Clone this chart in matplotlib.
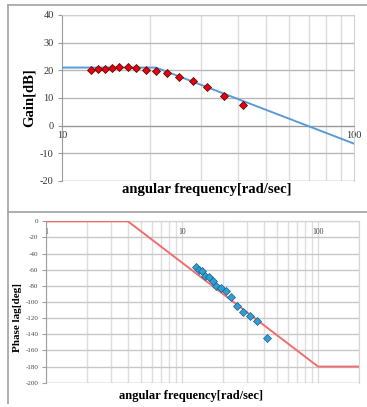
import matplotlib
matplotlib.use("Agg")
import matplotlib.pyplot as plt
from matplotlib.lines import Line2D
from matplotlib.ticker import FixedLocator, NullFormatter

# ---- data -----------------------------------------------------------
freq = [12.6, 13.3, 14.0, 14.8, 15.7, 16.8, 17.9, 19.4, 21.0, 22.9,
        25.2, 28.0, 31.4, 35.8, 41.8]
gain_meas = [20.0, 20.6, 20.6, 21.0, 21.3, 21.1, 20.7, 20.0, 19.9, 19.0,
             17.7, 16.1, 14.0, 10.7, 7.5]
phase_meas = [-56.5, -60.4, -61.2, -67.8, -68.6, -73.6, -79.8, -83.1, -86.0,
              -94.2, -105.0, -112.0, -117.4, -123.5, -144.2]

gain_fit_w = [10, 21, 100]
gain_fit = [21.0, 21.0, -6.5]
phase_fit_w = [1, 4, 100, 200]
phase_fit = [0, 0, -180, -180]

gain_yticks = [-20, -10, 0, 10, 20, 30, 40]
gain_xticks = [10, 100]
gain_xminor = [20, 30, 40, 50, 60, 70, 80, 90]
phase_yticks = list(range(-200, 1, 20))
phase_xticks = [1, 10, 100]
phase_xminor = [2, 3, 4, 5, 6, 7, 8, 9, 20, 30, 40, 50, 60, 70, 80, 90, 200]

W, H = 367, 407
SERIF = ["Liberation Serif", "DejaVu Serif"]
plt.rcParams["font.family"] = SERIF

fig = plt.figure(figsize=(W / 100, H / 100), dpi=100)
fig.patch.set_facecolor("white")


def box(x0, y0, x1, y1):
    # pixel box (from top-left) -> figure fraction rect
    return [x0 / W, 1 - y1 / H, (x1 - x0) / W, (y1 - y0) / H]


def fx(x):
    return x / W


def fy(y):
    return 1 - y / H


# ---- outer frame lines ----------------------------------------------
frame_c = "#a8a8a8"
for xs, ys in [((8, 367), (5, 5)), ((8, 8), (5, 403)), ((8, 367), (212, 212))]:
    fig.add_artist(Line2D([fx(v) for v in xs], [fy(v) for v in ys],
                          color=frame_c, lw=1.3))

# ════════════════════ top: gain ════════════════════
ax1 = fig.add_axes(box(62, 15, 354, 181))
ax1.set_xscale("log")
ax1.set_xlim(10, 100)
ax1.set_ylim(-20, 40)
ax1.set_yticks(gain_yticks)
ax1.set_yticklabels([str(v) for v in gain_yticks])
ax1.set_xticks(gain_xticks)
ax1.set_xticklabels([str(v) for v in gain_xticks])
ax1.xaxis.set_minor_locator(FixedLocator(gain_xminor))
ax1.xaxis.set_minor_formatter(NullFormatter())

ax1.grid(True, which="major", axis="y", color="#b8b8b8", lw=1.0, zorder=0)
ax1.grid(True, which="minor", axis="x", color="#dcdcdc", lw=1.0, zorder=0)
ax1.set_axisbelow(True)

for s in ["top", "right", "bottom"]:
    ax1.spines[s].set_color("#d0d0d0")
ax1.spines["left"].set_color("#9a9a9a")
ax1.spines["bottom"].set_position(("data", 0))
ax1.spines["bottom"].set_color("#9a9a9a")
ax1.axhline(-20, color="#d0d0d0", lw=1.0, zorder=1)

ax1.tick_params(axis="y", which="major", direction="out", length=3, width=0.8,
                color="#9a9a9a", labelsize=7.5, pad=3, labelcolor="#333333")
ax1.tick_params(axis="x", which="both", length=0, labelsize=7.5, pad=4,
                labelcolor="#333333")

ax1.plot(gain_fit_w, gain_fit, color="#5b9bd5", lw=1.4, zorder=3)
ax1.plot(freq, gain_meas, ls="none", marker="D", ms=4.3,
         mfc="#e8000b", mec="#5a1010", mew=0.6, zorder=4)

fig.text(fx(29), fy(98), "Gain[dB]", rotation=90, ha="center", va="center",
         fontsize=10.5, fontweight="bold")
fig.text(fx(207), fy(190), "angular frequency[rad/sec]", ha="center",
         va="center", fontsize=10.5, fontweight="bold")

# ════════════════════ bottom: phase ════════════════════
ax2 = fig.add_axes(box(46, 221.3, 359, 382.7))
ax2.set_xscale("log")
ax2.set_xlim(1, 200)
ax2.set_ylim(-200, 0)
ax2.set_yticks(phase_yticks)
ax2.set_yticklabels([str(v) for v in phase_yticks])
ax2.set_xticks(phase_xticks)
ax2.set_xticklabels([str(v) for v in phase_xticks])
ax2.xaxis.set_minor_locator(FixedLocator(phase_xminor))
ax2.xaxis.set_minor_formatter(NullFormatter())

ax2.grid(True, which="major", axis="y", color="#c8c8c8", lw=1.0, zorder=0)
ax2.grid(True, which="both", axis="x", color="#dedede", lw=1.0, zorder=0)
ax2.set_axisbelow(True)

for s in ["top", "right", "bottom"]:
    ax2.spines[s].set_color("#d6d6d6")
ax2.spines["left"].set_color("#a0a0a0")
ax2.spines["bottom"].set_position(("data", 0))
ax2.spines["bottom"].set_color("#d6d6d6")
ax2.axhline(-200, color="#c8c8c8", lw=1.0, zorder=1)

ax2.tick_params(axis="y", which="major", direction="out", length=3, width=0.8,
                color="#a0a0a0", labelsize=5, pad=2.5, labelcolor="#444444")
ax2.tick_params(axis="x", which="both", length=0, labelsize=5.5, pad=5,
                labelcolor="#444444")

ax2.plot(phase_fit_w, phase_fit, color="#f26d6d", lw=1.4, zorder=3)
ax2.plot(freq, phase_meas, ls="none", marker="D", ms=4.0,
         mfc="#2f9fd8", mec="#1d5f85", mew=0.5, zorder=4)

fig.text(fx(17.5), fy(317), "Phase lag[deg]", rotation=90, ha="center",
         va="center", fontsize=8, fontweight="bold")
fig.text(fx(191), fy(396), "angular frequency[rad/sec]", ha="center",
         va="center", fontsize=9, fontweight="bold")

fig.savefig("out.png", dpi=100)
